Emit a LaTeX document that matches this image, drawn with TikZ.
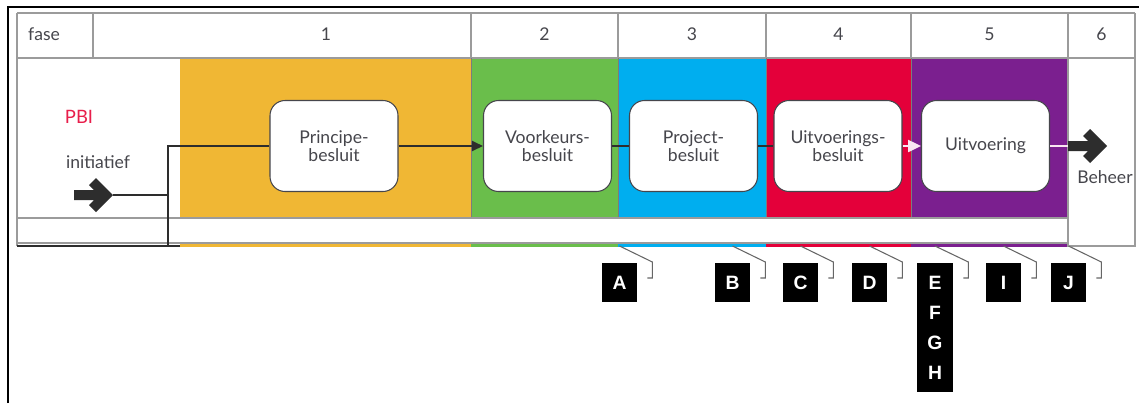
\documentclass[tikz,border=0pt]{standalone}
\usepackage{fontspec}
\setmainfont{Lato}
\newfontfamily\labelfont{Liberation Sans}
\usetikzlibrary{arrows.meta,calc}

\definecolor{faseorange}{RGB}{240,183,52}
\definecolor{fasegreen}{RGB}{106,190,75}
\definecolor{faseblue}{RGB}{0,174,239}
\definecolor{fasered}{RGB}{228,0,58}
\definecolor{fasepurple}{RGB}{123,31,143}
\definecolor{pbired}{RGB}{232,30,75}
\definecolor{txtgray}{RGB}{70,70,76}
\definecolor{gridgray}{RGB}{155,155,155}
\definecolor{arrowdark}{RGB}{45,45,45}
\definecolor{paleline}{RGB}{250,230,242}

\begin{document}
\begin{tikzpicture}[x=0.02cm,y=-0.02cm,
  grid/.style={draw=gridgray,line width=0.7pt},
  besluit/.style={draw=txtgray, fill=white, rounded corners=0.3cm,
    minimum width=2.56cm, minimum height=1.82cm, align=center,
    font=\fontsize{10}{10.5}\selectfont, text=txtgray, line width=0.6pt},
  tag/.style={fill=black, text=white, anchor=north, align=center, inner sep=0pt,
    font=\labelfont\bfseries\fontsize{11}{17}\selectfont,
    minimum width=0.7cm, minimum height=0.78cm},
  leader/.style={draw=gray!80!black, line width=0.6pt},
  flow/.style={draw=arrowdark, line width=1.2pt},
  hdr/.style={font=\fontsize{10}{12}\selectfont, text=txtgray},
  fatarrow/.pic={
    \fill[arrowdark] (0,0) -- (-17,17) -- (-24,10) -- (-19,5) -- (-39,5)
      -- (-39,-5) -- (-19,-5) -- (-24,-10) -- (-17,-17) -- cycle;
  }
]
\useasboundingbox (0,0) rectangle (1139,403);
\fill[white] (0,0) rectangle (1139,403);

% outer frame (top and left)
\draw[black, line width=1.2pt] (8,403) -- (8,7) -- (1139,7);

% coloured phase bands
\fill[faseorange] (180,58) rectangle (471,247);
\fill[fasegreen]  (471,58) rectangle (618,247);
\fill[faseblue]   (618,58) rectangle (766,247);
\fill[fasered]    (766,58) rectangle (911,247);
\fill[fasepurple] (911,58) rectangle (1068,247);
\fill[white]      (180,218) rectangle (1068,244);

% table grid
\draw[grid] (17,13) -- (1135,13);
\draw[grid] (17,58) -- (1135,58);
\draw[grid] (17,13) -- (17,246);
\draw[grid] (93,13) -- (93,58);
\foreach \xx in {471,618,766,911} {
  \draw[grid] (\xx,13) -- (\xx,58);
  \draw[gridgray!80!black, line width=0.4pt] (\xx,58) -- (\xx,218);
}
\draw[grid] (1068,13) -- (1068,246) -- (1135,246) -- (1135,13);
\draw[grid] (17,218) -- (1068,218);
\draw[grid] (17,243) -- (1068,243);
\draw[draw=arrowdark, line width=0.8pt] (17,246) -- (180,246);

% header texts
\node[hdr, anchor=west] (hfase) at (22,34) {fase};
\node[hdr] (h1) at (326,34) {1};
\node[hdr] (h2) at (544.5,34) {2};
\node[hdr] (h3) at (692,34) {3};
\node[hdr] (h4) at (838.5,34) {4};
\node[hdr] (h5) at (989.5,34) {5};
\node[hdr] (h6) at (1101.5,34) {6};

% left column texts
\node[font=\fontsize{10.5}{12}\selectfont, text=pbired] (pbi) at (79,117) {PBI};
\node[hdr] (init) at (98,162) {initiatief};
\node[hdr] (beheer) at (1105,177) {Beheer};

% decision boxes
\node[besluit] (pb)  at (334,146)   {Principe-\\besluit};
\node[besluit] (vb)  at (547.5,146) {Voorkeurs-\\besluit};
\node[besluit] (prb) at (693.5,146) {Project-\\besluit};
\node[besluit] (ub)  at (838,146)   {Uitvoerings-\\besluit};
\node[besluit] (uv)  at (985.5,146) {Uitvoering};

% initiative arrow and the flow into the first decision
\coordinate (initTip) at (113,195);
\coordinate (jbot) at (168,246);
\pic at (initTip) {fatarrow};
\draw[flow] (initTip) -- (initTip -| jbot);
\draw[flow] (jbot) |- (pb.west);
\draw[flow] (jbot) -- ++(12,0);

% flow between decisions
\draw[flow, -{Triangle[length=0.22cm,width=0.2cm]}] (pb) -- (vb);
\draw[flow] (vb) -- (prb);
\draw[flow] (prb) -- (ub);
\draw[draw=paleline, line width=1.4pt, -{Triangle[length=0.26cm,width=0.24cm]}] (ub) -- (uv);

% hand-over to management
\coordinate (behTail) at (1068,146);
\coordinate (behTip) at (1107,146);
\draw[draw=paleline, line width=1.4pt] (uv.east) -- (behTail);
\pic at (behTip) {fatarrow};

% reference tags
\node[tag] (tA) at (619.5,263) {A};
\node[tag] (tB) at (732.5,263) {B};
\node[tag] (tC) at (800.5,263) {C};
\node[tag] (tD) at (869.5,263) {D};
\node[tag, minimum width=0.72cm, minimum height=2.58cm] (tE) at (935,263) {E\\F\\G\\H};
\node[tag] (tI) at (1003.5,263) {I};
\node[tag] (tJ) at (1068.5,263) {J};

% leaders from the band to the tags
\foreach \t in {tA,tB,tC,tD,tE,tI,tJ} {
  \draw[leader] ($(\t.north)+(0,-17)$) -- ($(\t.north east)+(15,-1)$)
    -- ++(0,16) -- ++(-5,0);
}
\end{tikzpicture}
\end{document}
